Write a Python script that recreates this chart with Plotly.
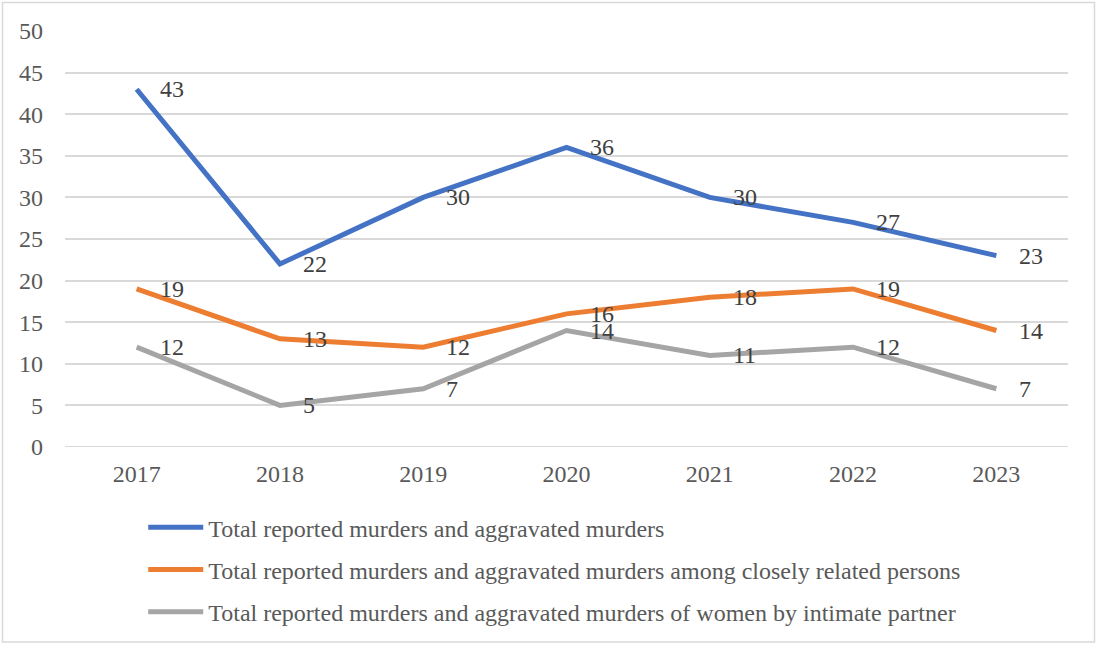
import plotly.graph_objects as go

years = ["2017", "2018", "2019", "2020", "2021", "2022", "2023"]
total = [43, 22, 30, 36, 30, 27, 23]
related = [19, 13, 12, 16, 18, 19, 14]
intimate = [12, 5, 7, 14, 11, 12, 7]

series = [
    ("Total reported murders and aggravated murders", total, "#4472C4"),
    ("Total reported murders and aggravated murders among closely related persons", related, "#ED7D31"),
    ("Total reported murders and aggravated murders of women by intimate partner", intimate, "#A5A5A5"),
]

FONT = "Liberation Serif"
FONT_SIZE = 24
TEXT_COLOR = "#595959"
GRID = "#D9D9D9"

fig = go.Figure()
annotations = []
for i, (name, vals, color) in enumerate(series):
    fig.add_trace(go.Scatter(
        x=years, y=vals, name=name, mode="lines",
        line=dict(color=color, width=5),
        legendgroup=f"g{i}",
    ))
    # value labels sit to the right of each point (category index on x)
    for idx, v in enumerate(vals):
        annotations.append(dict(
            x=idx, y=v, xref="x", yref="y", text=str(v), showarrow=False,
            xanchor="left", yanchor="middle", xshift=21, yshift=0,
            font=dict(family=FONT, size=FONT_SIZE, color="#404040"),
        ))

fig.update_layout(
    width=1097, height=645,
    margin=dict(l=65, r=29, t=31, b=197),
    paper_bgcolor="white", plot_bgcolor="white",
    font=dict(family=FONT, size=FONT_SIZE, color=TEXT_COLOR),
    showlegend=True,
    legend=dict(
        x=0.078, y=-0.137, xanchor="left", yanchor="top",
        orientation="v", itemwidth=55, tracegroupgap=8,
        font=dict(family=FONT, size=FONT_SIZE, color=TEXT_COLOR),
        bgcolor="rgba(0,0,0,0)",
    ),
    xaxis=dict(
        type="category", range=[-0.5, 6.5], showgrid=False, zeroline=False,
        showline=False, ticks="", ticklabelstandoff=10,
        tickfont=dict(family=FONT, size=FONT_SIZE, color=TEXT_COLOR),
    ),
    yaxis=dict(
        range=[0, 50], dtick=5, showgrid=True, gridcolor=GRID, gridwidth=2,
        zeroline=False, showline=False, ticks="", ticklabelstandoff=21,
        tickfont=dict(family=FONT, size=FONT_SIZE, color=TEXT_COLOR),
    ),
    annotations=annotations,
    shapes=[
        dict(type="line", xref="paper", yref="y", x0=0, x1=1, y0=0, y1=0,
             line=dict(color=GRID, width=2), layer="below"),
        dict(type="rect", xref="paper", yref="paper",
             x0=(2.5 - 65) / 1003, x1=(1094.5 - 65) / 1003,
             y0=(448 - 643.5) / 417, y1=(448 - 2.5) / 417,
             line=dict(color="#D9D9D9", width=1.5), fillcolor="rgba(0,0,0,0)"),
    ],
)

fig.write_html("out.html")
